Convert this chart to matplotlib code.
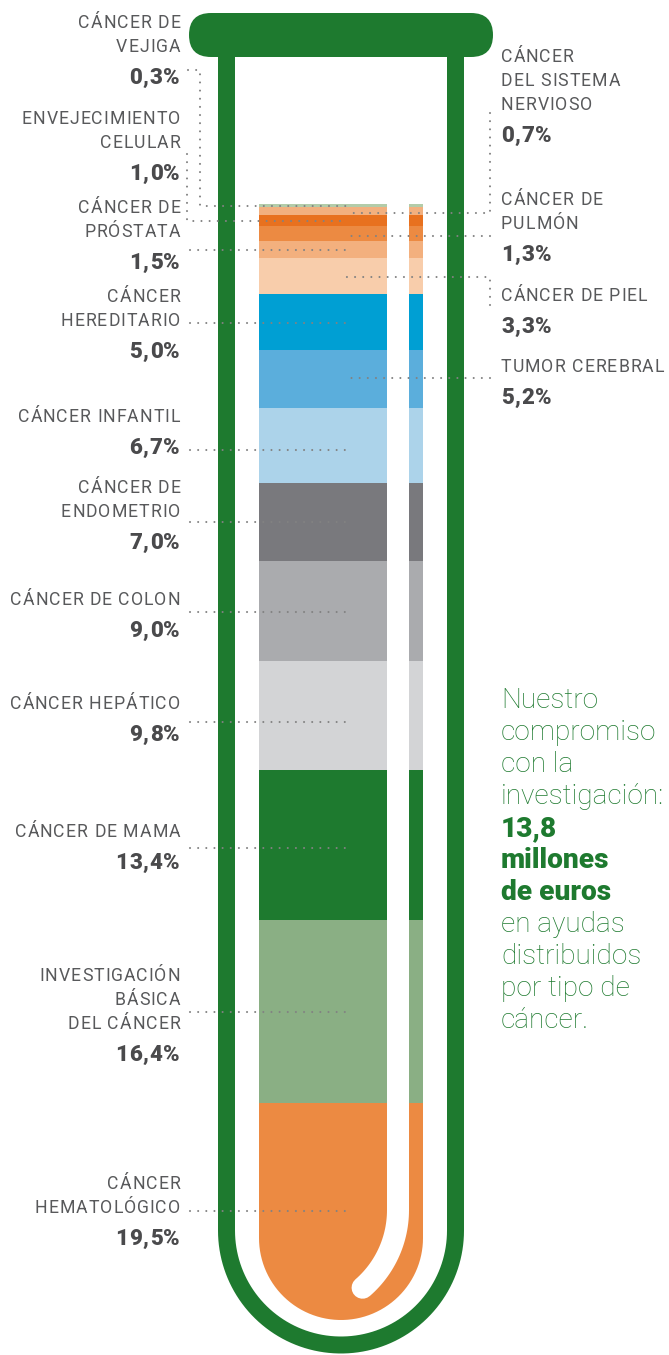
import numpy as np
import matplotlib
matplotlib.use("Agg")
import matplotlib.pyplot as plt
from matplotlib.path import Path
from matplotlib.patches import PathPatch, FancyBboxPatch
from matplotlib.font_manager import FontProperties

plt.rcParams['font.family'] = ['Roboto', 'DejaVu Sans']

# data (top of the tube to the bottom)
labels = ["CÁNCER DE\nVEJIGA", "CÁNCER\nDEL SISTEMA\nNERVIOSO", "ENVEJECIMIENTO\nCELULAR",
          "CÁNCER DE\nPULMÓN", "CÁNCER DE\nPRÓSTATA", "CÁNCER DE PIEL", "CÁNCER\nHEREDITARIO",
          "TUMOR CEREBRAL", "CÁNCER INFANTIL", "CÁNCER DE\nENDOMETRIO", "CÁNCER DE COLON",
          "CÁNCER HEPÁTICO", "CÁNCER DE MAMA", "INVESTIGACIÓN\nBÁSICA\nDEL CÁNCER",
          "CÁNCER\nHEMATOLÓGICO"]
shares = [0.3, 0.7, 1.0, 1.3, 1.5, 3.3, 5.0, 5.2, 6.7, 7.0, 9.0, 9.8, 13.4, 16.4, 19.5]
colors = ["#b3cca9", "#f2b07f", "#e8711f", "#ec8a42", "#f3b07e", "#f8cdab", "#009fd3",
          "#5baedc", "#acd3ea", "#79797d", "#aaabae", "#d3d4d6", "#1e7a2f", "#8aaf84",
          "#ec8a42"]
sides = ["L", "R", "L", "R", "L", "R", "L", "R", "L", "L", "L", "L", "L", "L", "L"]

note_lines = ["Nuestro", "compromiso", "con la", "investigación:", "13,8", "millones",
              "de euros", "en ayudas", "distribuidos", "por tipo de", "cáncer."]
note_bold = [False, False, False, False, True, True, True, False, False, False, False]

# layout (pixels)
first_base = [28, 61.7, 124, 205, 213, 300.7, 301.7, 372, 421.7, 493, 605, 709, 837, 981, 1189]
leaders = [
    [(188, 70), (200, 70), (200, 206), (346, 206)],
    [(490, 113), (490, 213), (346, 213)],
    [(187, 154), (187, 221), (346, 221)],
    [(490, 235.5), (346, 235.5)],
    [(190, 250), (346, 250)],
    [(490, 305), (490, 277), (346, 277)],
    [(190, 322.5), (346, 322.5)],
    [(490, 378), (346, 378)],
    [(190, 450), (346, 450)],
    [(190, 522), (346, 522)],
    [(190, 612), (346, 612)],
    [(190, 722), (346, 722)],
    [(190, 848), (346, 848)],
    [(190, 1012), (346, 1012)],
    [(190, 1211), (346, 1211)],
]

W, H = 669, 1355
GREEN = "#1e7a2f"
fig = plt.figure(figsize=(W / 100, H / 100), dpi=100)
ax = fig.add_axes([0, 0, 1, 1], zorder=2)
ax.set_xlim(0, W)
ax.set_ylim(H, 0)
ax.axis("off")
renderer = fig.canvas.get_renderer()

# liquid: stacked bars in their own axes
liq_top, liq_bot, liq_l, liq_r = 204, 1320, 259, 423
ax_liq = fig.add_axes([liq_l / W, 1 - liq_bot / H, (liq_r - liq_l) / W, (liq_bot - liq_top) / H], zorder=1)
total = sum(shares)
bottoms = np.concatenate([[0], np.cumsum(shares)[:-1]])
bars = ax_liq.bar(0.5, shares, bottom=bottoms, width=1, color=colors, linewidth=0)
ax_liq.set_xlim(0, 1)
ax_liq.set_ylim(total, 0)
ax_liq.axis("off")

# liquid outline with rounded bottom
r_liq = (liq_r - liq_l) / 2
cx = (liq_l + liq_r) / 2
cy = liq_bot - r_liq
t = np.linspace(0, np.pi, 60)
pts = [(liq_l, liq_top - 2), (liq_l, cy)]
pts += list(zip(cx - r_liq * np.cos(t), cy + r_liq * np.sin(t)))
pts += [(liq_r, liq_top - 2), (liq_l, liq_top - 2)]
clip = PathPatch(Path(pts, closed=True), transform=ax.transData, facecolor="none", edgecolor="none")
for b in bars:
    b.set_clip_path(clip)

# straw (white)
R = 103
th = np.linspace(0, np.radians(49), 30)
sx = [398, 398] + list(398 - R + R * np.cos(th))
sy = [196, 1210] + list(1210 + R * np.sin(th))
ax.plot(sx, sy, color="white", lw=22 * 0.72, solid_capstyle="round", zorder=3)

# tube walls + cap
r_w = 114.5
tc_x, tc_y = 341, 1230.5
t2 = np.linspace(np.pi, 0, 80)
wx = [tc_x - r_w, tc_x - r_w] + list(tc_x + r_w * np.cos(t2)) + [tc_x + r_w, tc_x + r_w]
wy = [50, tc_y] + list(tc_y + r_w * np.sin(t2)) + [tc_y, 50]
ax.plot(wx, wy, color=GREEN, lw=17 * 0.72, solid_capstyle="butt", solid_joinstyle="round", zorder=4)
cap = FancyBboxPatch((189, 13), 304, 44, boxstyle="round,pad=0,rounding_size=22",
                     facecolor=GREEN, edgecolor="none", zorder=5)
ax.add_patch(cap)

# leaders
for pts_l in leaders:
    xs, ys = zip(*pts_l)
    ax.plot(xs, ys, color="#828282", lw=1.5, linestyle=(0, (0.01, 3.9)),
            dash_capstyle="round", zorder=6)


def text_w(s, fp):
    w, _, _ = renderer.get_text_width_height_descent(s, fp, ismath=False)
    return w


def tracked(x, y, s, ha, fp, color, track):
    # letter-spaced text, one glyph at a time
    base = text_w("HH", fp)
    advs = [text_w("H" + c + "H", fp) - base for c in s]
    width = sum(advs) + track * (len(s) - 1)
    x0 = x - width if ha == "right" else x
    for c, a in zip(s, advs):
        if c != " ":
            ax.text(x0, y, c, fontproperties=fp, ha="left", va="baseline", color=color, zorder=7)
        x0 += a + track


fp_lab = FontProperties(family=['Roboto', 'DejaVu Sans'], size=12.7)
fp_pct = FontProperties(family=['Roboto', 'DejaVu Sans'], size=16, weight="black")

pitch = 24
for name, v, side, y0 in zip(labels, shares, sides, first_base):
    x = 180 if side == "L" else 501
    ha = "right" if side == "L" else "left"
    lines = name.split("\n")
    for i, ln in enumerate(lines):
        tracked(x, y0 + i * pitch, ln, ha, fp_lab, "#58595b", 1.0)
    pct = f"{v:.1f}".replace(".", ",") + "%"
    tracked(x, y0 + (len(lines) - 1) * pitch + 32, pct, ha, fp_pct, "#4a4a4c", 0.8)

# note on the right
for i, (ln, bold) in enumerate(zip(note_lines, note_bold)):
    ax.text(501, 708 + i * 32, ln, ha="left", va="baseline", fontsize=20.2,
            fontweight="black" if bold else "light", color=GREEN, zorder=7)

fig.savefig("out.png", dpi=100)
